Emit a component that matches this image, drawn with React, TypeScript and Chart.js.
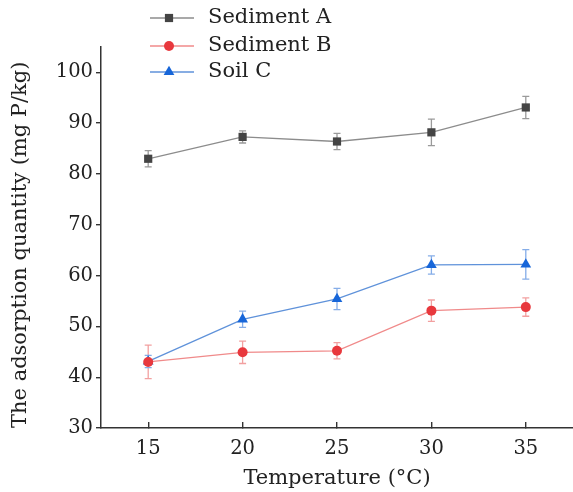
import React, { useEffect, useRef } from "react";
import { Chart, registerables } from "chart.js";

Chart.register(...registerables);

const temperatures = [15, 20, 25, 30, 35];
const xTickValues = [15, 20, 25, 30, 35];
const yTickValues = [30, 40, 50, 60, 70, 80, 90, 100];

const seriesNames = ["Sediment A", "Sediment B", "Soil C"];
const sedimentA = [83.0, 87.3, 86.4, 88.2, 93.1];
const sedimentAErr = [1.6, 1.2, 1.6, 2.6, 2.2];
const sedimentB = [43.0, 44.9, 45.2, 53.1, 53.8];
const sedimentBErr = [3.3, 2.2, 1.6, 2.1, 1.8];
const soilC = [43.1, 51.4, 55.4, 62.1, 62.2];
const soilCErr = [1.2, 1.6, 2.1, 1.8, 2.9];

const FONT = "'DejaVu Serif', serif";

const styles = [
  { line: "#8c8c8c", marker: "#444444", err: "#9a9a9a", pointStyle: "rect", radius: 5.8 },
  { line: "#f08a8a", marker: "#e8383d", err: "#f2a0a0", pointStyle: "circle", radius: 5 },
  { line: "#5f92da", marker: "#1766d9", err: "#85ade8", pointStyle: "triangle", radius: 6.2 },
];

const values = [sedimentA, sedimentB, soilC];
const errors = [sedimentAErr, sedimentBErr, soilCErr];

function drawMarker(ctx: CanvasRenderingContext2D, style: string, r: number, x: number, y: number) {
  ctx.beginPath();
  if (style === "rect") {
    const s = Math.SQRT1_2 * r;
    ctx.rect(x - s, y - s, 2 * s, 2 * s);
  } else if (style === "circle") {
    ctx.arc(x, y, r, 0, Math.PI * 2);
  } else {
    const a = (Math.PI * 2) / 3;
    ctx.moveTo(x, y - r);
    ctx.lineTo(x + Math.sin(a) * r, y - Math.cos(a) * r);
    ctx.lineTo(x + Math.sin(2 * a) * r, y - Math.cos(2 * a) * r);
    ctx.closePath();
  }
  ctx.fill();
}

const errorBarPlugin = {
  id: "errorBars",
  beforeDatasetsDraw(chart: any) {
    const { ctx, scales } = chart;
    const xs = scales.x;
    const ys = scales.y;
    ctx.save();
    values.forEach((vals, si) => {
      ctx.strokeStyle = styles[si].err;
      ctx.lineWidth = 1.3;
      vals.forEach((v, i) => {
        const x = xs.getPixelForValue(temperatures[i]);
        const yTop = ys.getPixelForValue(v + errors[si][i]);
        const yBot = ys.getPixelForValue(v - errors[si][i]);
        ctx.beginPath();
        ctx.moveTo(x, yTop);
        ctx.lineTo(x, yBot);
        ctx.moveTo(x - 3.5, yTop);
        ctx.lineTo(x + 3.5, yTop);
        ctx.moveTo(x - 3.5, yBot);
        ctx.lineTo(x + 3.5, yBot);
        ctx.stroke();
      });
    });
    ctx.restore();
  },
};

const legendPlugin = {
  id: "customLegend",
  afterDraw(chart: any) {
    const { ctx } = chart;
    ctx.save();
    const rows = [18, 46, 72];
    seriesNames.forEach((name, i) => {
      const y = rows[i];
      ctx.strokeStyle = styles[i].line;
      ctx.lineWidth = 1.3;
      ctx.beginPath();
      ctx.moveTo(150, y);
      ctx.lineTo(194, y);
      ctx.stroke();
      ctx.fillStyle = styles[i].marker;
      drawMarker(ctx, styles[i].pointStyle, styles[i].radius, 169, y);
      ctx.fillStyle = "#222";
      ctx.font = `21px ${FONT}`;
      ctx.textBaseline = "middle";
      ctx.textAlign = "left";
      ctx.fillText(name, 208, y);
    });
    ctx.restore();
  },
};

export default function App() {
  const canvasRef = useRef<HTMLCanvasElement | null>(null);

  useEffect(() => {
    if (!canvasRef.current) return;
    const datasets = values.map((vals, si) => ({
      label: seriesNames[si],
      data: vals.map((v, i) => ({ x: temperatures[i], y: v })),
      borderColor: styles[si].line,
      backgroundColor: styles[si].marker,
      pointBackgroundColor: styles[si].marker,
      pointBorderColor: styles[si].marker,
      pointBorderWidth: 0,
      borderWidth: 1.3,
      pointStyle: styles[si].pointStyle,
      pointRadius: styles[si].radius,
      tension: 0,
      fill: false,
      clip: false,
    }));

    const chart = new Chart(canvasRef.current, {
      type: "line",
      data: { datasets } as any,
      options: {
        responsive: false,
        animation: false,
        layout: { autoPadding: false, padding: { top: 47, left: 5, right: 0, bottom: 0 } },
        plugins: { legend: { display: false }, tooltip: { enabled: false } },
        scales: {
          x: {
            type: "linear",
            min: 12.5,
            max: 37.5,
            afterBuildTicks: (s: any) => {
              s.ticks = xTickValues.map((v) => ({ value: v }));
            },
            afterFit: (s: any) => {
              s.height = 64;
            },
            grid: {
              drawOnChartArea: false,
              drawTicks: true,
              tickLength: -6,
              color: "#333",
              lineWidth: 1.4,
            },
            border: { display: true, color: "#333", width: 1.5 },
            ticks: {
              padding: 15,
              color: "#222",
              font: { family: FONT, size: 19.5 },
            },
            title: {
              display: true,
              text: "Temperature (°C)",
              color: "#222",
              padding: { top: 0, bottom: 1 },
              font: { family: FONT, size: 21 },
            },
          },
          y: {
            type: "linear",
            min: 30,
            max: 105,
            afterBuildTicks: (s: any) => {
              s.ticks = yTickValues.map((v) => ({ value: v }));
            },
            afterFit: (s: any) => {
              s.width = 96;
            },
            grid: {
              drawOnChartArea: false,
              drawTicks: true,
              tickLength: 5,
              color: "#333",
              lineWidth: 1.4,
            },
            border: { display: true, color: "#333", width: 1.5 },
            ticks: {
              padding: 3,
              color: "#222",
              font: { family: FONT, size: 19.5 },
            },
            title: {
              display: true,
              align: "start",
              text: "The adsorption quantity (mg P/kg)",
              color: "#222",
              padding: { top: 3, bottom: 0 },
              font: { family: FONT, size: 21 },
            },
          },
        },
      },
      plugins: [errorBarPlugin, legendPlugin],
    } as any);

    return () => chart.destroy();
  }, []);

  return (
    <div style={{ position: "absolute", left: 0, top: 0, width: 573, height: 492, background: "#fff" }}>
      <canvas ref={canvasRef} width={573} height={492} style={{ display: "block" }} />
    </div>
  );
}
